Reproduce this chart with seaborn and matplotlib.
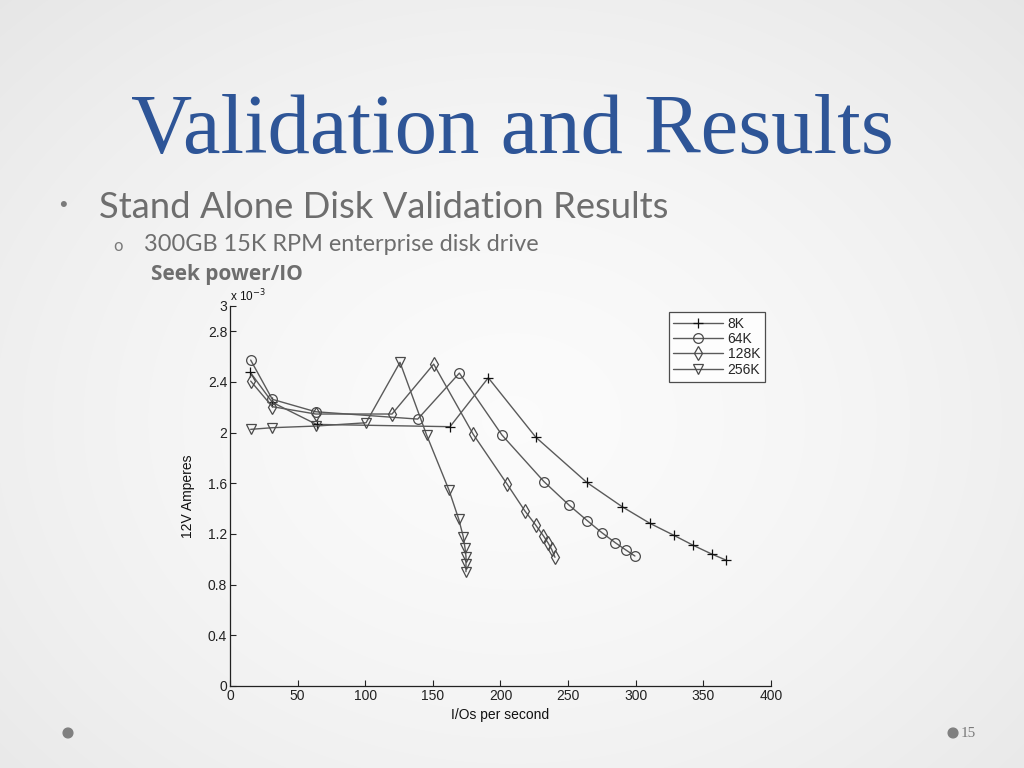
import numpy as np
import pandas as pd
import matplotlib
matplotlib.use("Agg")
import matplotlib.pyplot as plt
from matplotlib.lines import Line2D
import seaborn as sns

# ---- data (12V current in units of 1e-3 A) ----
series_names = ["8K", "64K", "128K", "256K"]
io_8k = [15.0, 31.3, 64.0, 162.7, 191.0, 226.2, 263.7, 290.0, 310.5, 328.3, 342.6, 356.1, 366.7]
amp_8k = [2.476, 2.239, 2.065, 2.047, 2.433, 1.963, 1.608, 1.415, 1.284, 1.189, 1.110, 1.042, 0.994]
io_64k = [15.3, 31.3, 63.3, 138.8, 169.6, 201.1, 232.2, 250.9, 264.2, 275.0, 284.9, 292.8, 299.4]
amp_64k = [2.573, 2.263, 2.165, 2.107, 2.470, 1.981, 1.613, 1.426, 1.305, 1.210, 1.131, 1.073, 1.026]
io_128k = [15.3, 31.3, 63.4, 119.8, 150.6, 179.9, 205.0, 218.1, 226.0, 231.7, 235.4, 237.8, 240.3]
amp_128k = [2.407, 2.205, 2.147, 2.147, 2.541, 1.986, 1.592, 1.381, 1.271, 1.186, 1.126, 1.079, 1.016]
io_256k = [15.3, 31.3, 63.4, 100.6, 125.7, 145.4, 161.9, 169.1, 172.5, 173.8, 174.5, 174.5, 174.5]
amp_256k = [2.026, 2.039, 2.052, 2.078, 2.555, 1.981, 1.547, 1.318, 1.178, 1.087, 1.021, 0.963, 0.902]

x_ticks = [0, 50, 100, 150, 200, 250, 300, 350, 400]
y_ticks = [0, 0.4, 0.8, 1.2, 1.6, 2.0, 2.4, 2.8, 3.0]
y_tick_labels = ["0", "0.4", "0.8", "1.2", "1.6", "2", "2.4", "2.8", "3"]

title_text = "Validation and Results"
bullet_text = "Stand Alone Disk Validation Results"
sub_bullet_text = "300GB 15K RPM enterprise disk drive"
chart_caption = "Seek power/IO"
page_number = "15"

frames = []
for name, xs, ys in [("8K", io_8k, amp_8k), ("64K", io_64k, amp_64k),
                     ("128K", io_128k, amp_128k), ("256K", io_256k, amp_256k)]:
    frames.append(pd.DataFrame({"io": xs, "amps": ys, "size": name}))
df = pd.concat(frames, ignore_index=True)

sns.set_theme(style="white")
plt.rcParams["font.family"] = ["Liberation Sans", "DejaVu Sans"]

fig = plt.figure(figsize=(10.24, 7.68), dpi=100)

# slide background: soft radial gradient
bg = fig.add_axes([0, 0, 1, 1], zorder=-10)
yy, xx = np.mgrid[0:768, 0:1024]
r = np.sqrt(((xx - 512) / 700.0) ** 2 + ((yy - 420) / 560.0) ** 2)
shade = np.clip(0.985 - 0.075 * r ** 1.5, 0.88, 1.0)
bg.imshow(np.dstack([shade] * 3), aspect="auto", extent=[0, 1, 0, 1])
bg.set_axis_off()

# slide text
fig.text(0.5, 0.828, title_text, ha="center", va="center",
         fontsize=61, color="#2E5597", family=["Liberation Serif", "DejaVu Serif"])
fig.text(0.058, 0.732, "\u2022", ha="left", va="center", fontsize=16, color="#7a7a7a")
fig.text(0.097, 0.730, bullet_text, ha="left", va="center", fontsize=26.2,
         color="#6e6e6e", family=["Lato", "DejaVu Sans"])
fig.text(0.111, 0.680, "o", ha="left", va="center", fontsize=12,
         color="#7a7a7a", family=["Lato", "DejaVu Sans"])
fig.text(0.141, 0.681, sub_bullet_text, ha="left", va="center", fontsize=16.9,
         color="#6e6e6e", family=["Lato", "DejaVu Sans"])
fig.text(0.147, 0.643, chart_caption, ha="left", va="center", fontsize=15,
         color="#6e6e6e", family=["Open Sans", "DejaVu Sans"], fontweight="bold")
fig.text(0.938, 0.045, page_number, ha="left", va="center", fontsize=11,
         color="#7a7a7a", family=["Liberation Serif", "DejaVu Serif"])
fig.patches.append(matplotlib.patches.Ellipse((0.0664, 0.0456), 0.0095, 0.0127,
                                              transform=fig.transFigure, color="#808080"))
fig.patches.append(matplotlib.patches.Ellipse((0.9307, 0.0456), 0.0095, 0.0127,
                                              transform=fig.transFigure, color="#808080"))

# chart
ax = fig.add_axes([0.2246, 0.1068, 0.5283, 0.4948])
ax.patch.set_alpha(0.0)

markers = {"8K": "+", "64K": "o", "128K": "d", "256K": "v"}
edge_colors = {"8K": "#111111", "64K": "#4a4a4a", "128K": "#4a4a4a", "256K": "#4a4a4a"}
sizes = {"8K": 7, "64K": 7, "128K": 7, "256K": 7}
for n in series_names:
    sub = df[df["size"] == n]
    sns.lineplot(data=sub, x="io", y="amps", sort=False, estimator=None,
                 color="#5a5a5a", linewidth=1.0, marker=markers[n],
                 markersize=sizes[n], markerfacecolor="none",
                 markeredgecolor=edge_colors[n], markeredgewidth=0.9,
                 legend=False, ax=ax)

ax.set_xlim(0, 400)
ax.set_ylim(0, 3)
ax.set_xticks(x_ticks)
ax.set_xticklabels([str(t) for t in x_ticks])
ax.set_yticks(y_ticks)
ax.set_yticklabels(y_tick_labels)
ax.tick_params(direction="in", length=4, width=0.8, labelsize=10,
               colors="#222222", pad=2, left=True, bottom=True)
for s in ["top", "right"]:
    ax.spines[s].set_visible(False)
for s in ["left", "bottom"]:
    ax.spines[s].set_color("#222222")
    ax.spines[s].set_linewidth(0.9)
ax.set_xlabel("I/Os per second", fontsize=10, color="#111111", labelpad=4)
ax.set_ylabel("12V Amperes", fontsize=10, color="#111111", labelpad=9)
ax.text(0.0, 1.004, r"x 10$^{-3}$", transform=ax.transAxes, fontsize=8.5,
        ha="left", va="bottom", color="#111111")

handles = []
for n in series_names:
    handles.append(Line2D([0], [0], color="#5a5a5a", lw=1.0, marker=markers[n],
                          markersize=sizes[n], markerfacecolor="none",
                          markeredgecolor=edge_colors[n], markeredgewidth=0.9))
leg = ax.legend(handles, series_names, loc="upper right",
                bbox_to_anchor=(0.989, 0.985), fontsize=10, frameon=True,
                fancybox=False, handlelength=3.6, handletextpad=0.3,
                labelspacing=0.1, borderpad=0.35, borderaxespad=0.0)
leg.get_frame().set_edgecolor("#222222")
leg.get_frame().set_linewidth(0.9)
leg.get_frame().set_facecolor("white")

fig.savefig("out.png", dpi=100)
